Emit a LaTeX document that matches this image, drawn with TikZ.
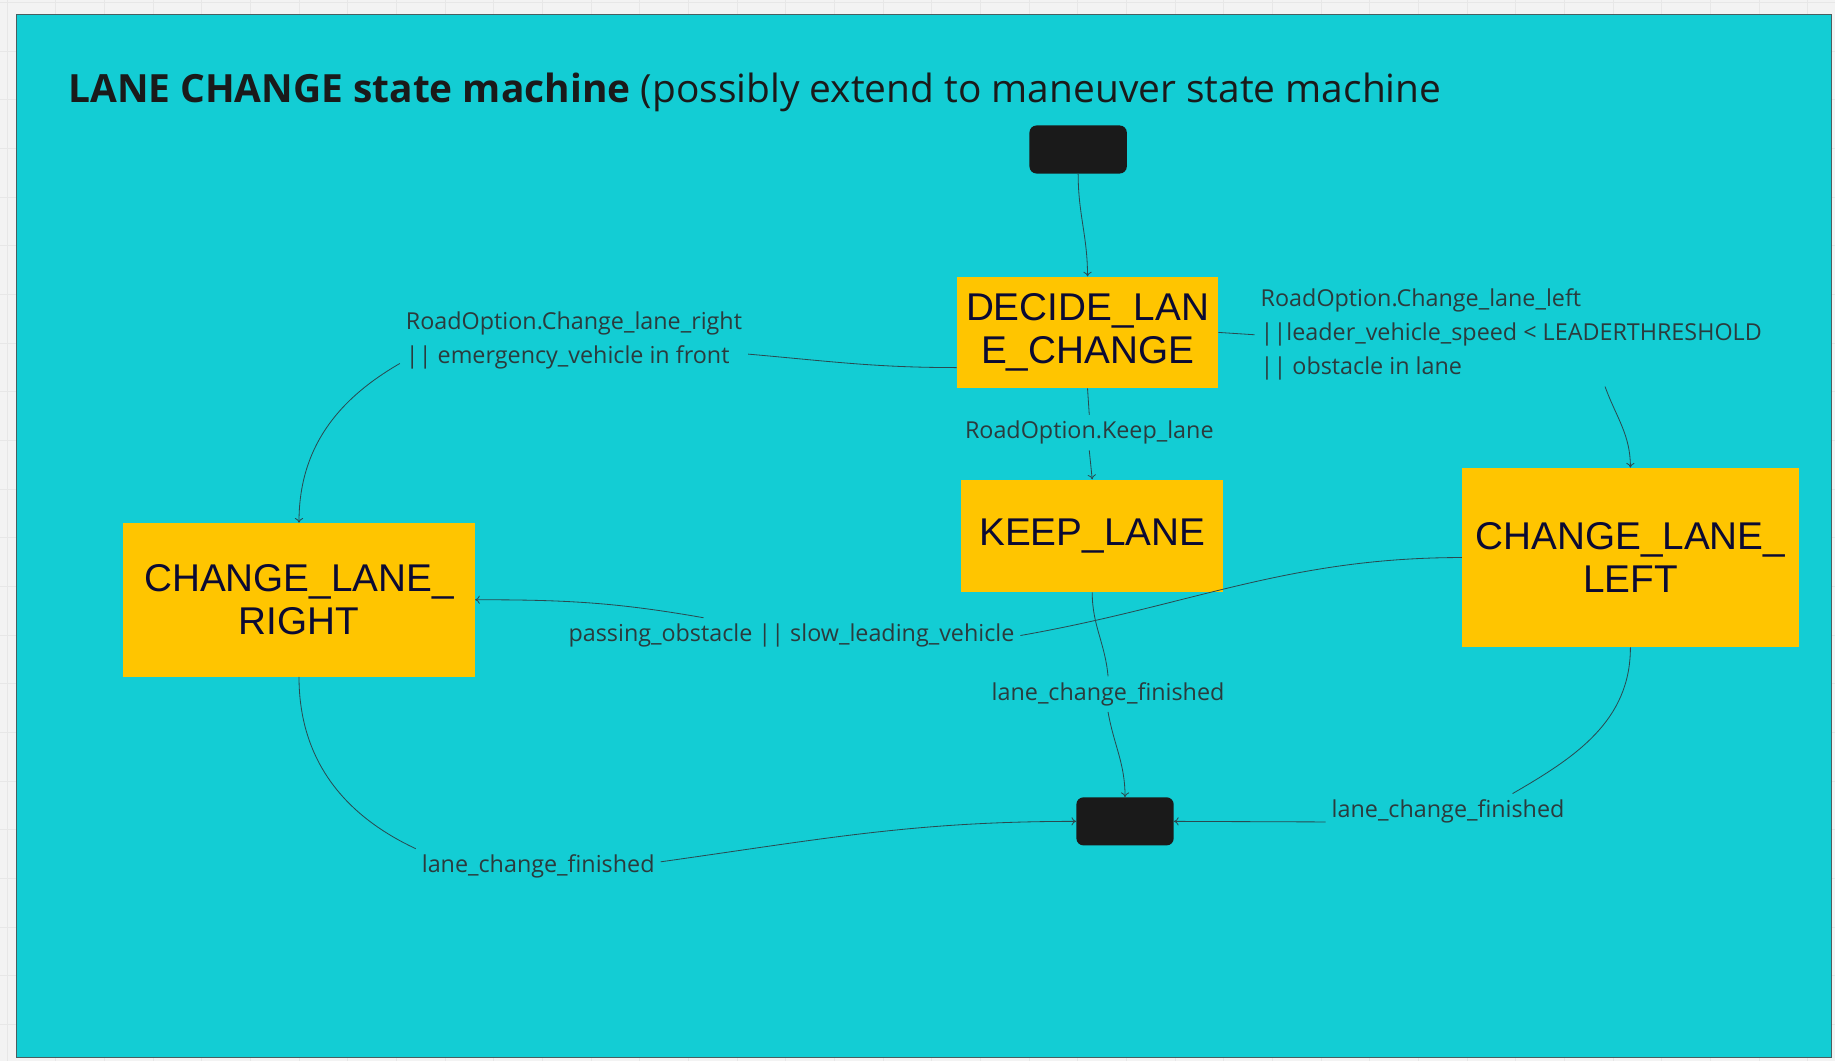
\documentclass[tikz,border=0pt]{standalone}
\usepackage{fontspec}
\setmainfont{Open Sans}
\newfontfamily\statefont{Liberation Sans}
\usetikzlibrary{arrows.meta}
\definecolor{canvas}{HTML}{F3F3F3}
\definecolor{gridcol}{HTML}{E7E7E7}
\definecolor{board}{HTML}{13CDD4}
\definecolor{boardline}{HTML}{4A5E60}
\definecolor{stateyellow}{HTML}{FFC500}
\definecolor{statetext}{HTML}{0B0A33}
\definecolor{termblack}{HTML}{1A1A1A}
\definecolor{lbltext}{HTML}{2B3B3D}
\definecolor{edgecol}{HTML}{2A4A50}
\tikzset{state/.style={fill=stateyellow, text=statetext, align=center, inner sep=0pt,
  font=\statefont\fontsize{33}{36}\selectfont},
%start and end marks
terminal/.style={fill=termblack, rounded corners=6pt, minimum width=83pt, minimum height=41pt, inner sep=0pt},
lbl/.style={text=lbltext, inner sep=5pt, font=\fontsize{19.9}{29}\selectfont},
wire/.style={draw=edgecol, line width=0.7pt},
edge/.style={wire, -{To[length=4pt,width=7pt]}}}

\begin{document}
\begin{tikzpicture}[x=1pt,y=1pt]
\useasboundingbox (0,0) rectangle (1565,-905);
% board
\fill[canvas] (0,0) rectangle (1565,-905);
\foreach \gx in {6,47.5,...,1565}
     \draw[gridcol] (\gx,0) -- (\gx,-905);
\foreach \gy in {-2,-43.5,...,-905}
     \draw[gridcol] (0,\gy) -- (1565,\gy);
\draw[fill=board, draw=boardline, line width=0.8pt] (14,-12) rectangle (1562,-902);

\node[anchor=base west, inner sep=0pt, text=termblack, font=\fontsize{33.15}{40}\selectfont] (title) at (58,-87)
     {\textbf{LANE CHANGE state machine} (possibly extend to maneuver state machine};

% states
\node[terminal] (start) at (919.5,-127.5) {};
\node[terminal] (finish) at (959.5,-700.5) {};
\node[state, minimum width=223pt, minimum height=95pt] (decide) at (927.5,-283.5) {DECIDE\_LAN\\E\_CHANGE};
\node[state, minimum width=223pt, minimum height=96pt] (keep) at (931.5,-457) {KEEP\_LANE};
\node[state, minimum width=287pt, minimum height=153pt] (left) at (1390.5,-475.5) {CHANGE\_LANE\_\\LEFT};
\node[state, minimum width=300pt, minimum height=131pt] (right) at (255,-511.5) {CHANGE\_LANE\_\\RIGHT};

%labels
\node[lbl, align=left, anchor=west] (condright) at (341,-290) {RoadOption.Change\_lane\_right\\|| emergency\_vehicle in front};
\node[lbl, align=left, anchor=west] (condleft) at (1070,-285.5) {RoadOption.Change\_lane\_left\\||leader\_vehicle\_speed < LEADERTHRESHOLD\\|| obstacle in lane};
\node[lbl] (condkeep) at (929,-369) {RoadOption.Keep\_lane};
\node[lbl] (condpass) at (675,-542) {passing\_obstacle || slow\_leading\_vehicle};
\node[lbl] (donekeep) at (945,-592) {lane\_change\_finished};
\node[lbl] (doneleft) at (1235,-692) {lane\_change\_finished};
\node[lbl] (doneright) at (459,-739) {lane\_change\_finished};

% transitions
\draw[edge] (start.south) to[out=-90,in=90] (decide.north);
\draw[wire] ([yshift=-30pt]decide.west) to[out=180,in=-5] ([yshift=-12pt]condright.east);
\draw[edge] ([yshift=-20pt]condright.west) to[out=210,in=90] (right.north);
\draw[wire] (decide.east) -- (condleft.west);
\draw[edge] ([xshift=80pt]condleft.south) to[out=-70,in=90] (left.north);
\draw[wire] (decide.south) -- (condkeep.north);
\draw[edge] (condkeep.south) -- (keep.north);
\draw[wire] (left.west) to[out=180,in=10] (condpass.east);
\draw[edge] ([xshift=-75pt]condpass.north) to[out=170,in=0] (right.east);
\draw[wire] (keep.south) to[out=-90,in=95] (donekeep.north);
\draw[edge] (donekeep.south) to[out=-80,in=90] (finish.north);
\draw[wire] (left.south) to[out=-90,in=30] ([xshift=55pt]doneleft.north);
\draw[edge] ([yshift=-9pt]doneleft.west) -- (finish.east);
\draw[wire] (right.south) to[out=-90,in=155] (doneright.north west);
\draw[edge] ([yshift=4pt]doneright.east) to[out=8,in=180] (finish.west);
\end{tikzpicture}
\end{document}
